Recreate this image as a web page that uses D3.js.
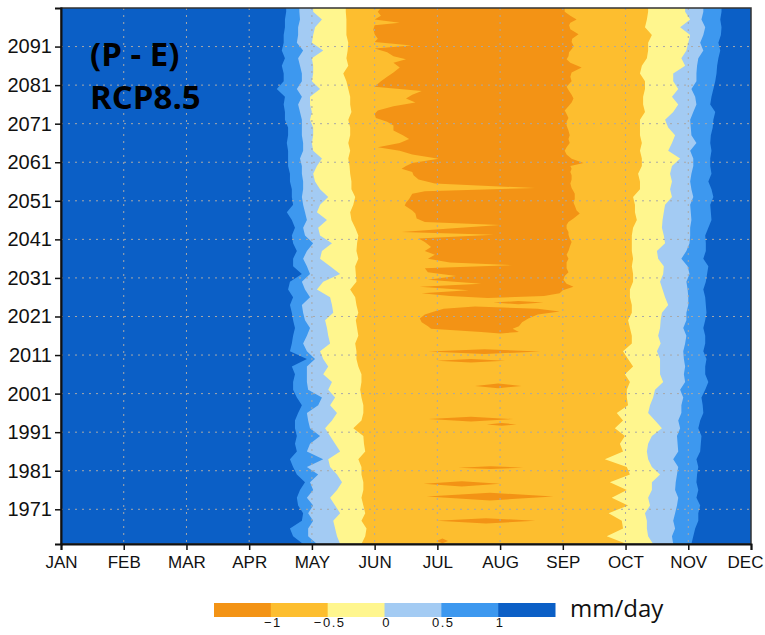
<!DOCTYPE html>
<html>
<head>
<meta charset="utf-8">
<script src="https://cdn.jsdelivr.net/npm/d3@7"></script>
<style>
  html, body { margin: 0; padding: 0; background: #fff; }
  svg { display: block; }
</style>
</head>
<body>
<svg id="chart" width="765" height="635"></svg>
<script>
// month labels on the x axis (JAN at the left edge, DEC at the right edge)
var months = ["JAN","FEB","MAR","APR","MAY","JUN","JUL","AUG","SEP","OCT","NOV","DEC"];
var yearTicks = [1971, 1981, 1991, 2001, 2011, 2021, 2031, 2041, 2051, 2061, 2071, 2081, 2091];

// colour classes of P - E (mm/day)
var levels = [-1, -0.5, 0, 0.5, 1];
var classColors = ["#f39315", "#fdbe2f", "#fff68e", "#a3cbf3", "#3d98ef", "#0b5fc6"];

// years at which the class boundaries were read
var years = [
  1962,1964,1966,1968,1970,1972,1974,1976,1978,1980,
  1982,1984,1986,1988,1990,1992,1994,1996,1998,2000,
  2002,2004,2006,2008,2010,2012,2014,2016,2018,2020,
  2022,2024,2026,2028,2030,2032,2034,2036,2038,2040,
  2042,2044,2046,2048,2050,2052,2054,2056,2058,2060,
  2062,2064,2066,2068,2070,2072,2074,2076,2078,2080,
  2082,2084,2086,2088,2090,2092,2094,2096,2098,2100];

// spring: month position where P-E drops below 1, 0.5, 0, -0.5
var spring1 = [
  3.86,3.70,3.65,3.84,3.86,3.78,3.76,3.81,3.89,3.76,
  3.70,3.65,3.76,3.73,3.76,3.73,3.73,3.78,3.84,3.76,
  3.70,3.70,3.73,3.68,3.92,3.65,3.68,3.70,3.73,3.70,
  3.68,3.65,3.70,3.62,3.65,3.84,3.70,3.70,3.76,3.70,
  3.68,3.73,3.68,3.60,3.70,3.68,3.68,3.65,3.65,3.62,
  3.62,3.62,3.60,3.62,3.62,3.57,3.57,3.55,3.57,3.44,
  3.55,3.55,3.52,3.57,3.52,3.55,3.55,3.57,3.57,3.59];
var spring05 = [
  4.08,3.94,3.94,4.02,3.94,4.02,3.92,4.02,3.97,4.10,
  3.92,4.18,3.92,3.97,4.13,3.97,3.94,3.92,4.10,4.16,
  3.94,3.92,3.92,3.92,4.05,3.92,3.86,3.92,3.97,3.89,
  3.86,3.84,3.97,3.89,3.84,3.97,3.92,3.86,3.92,4.02,
  3.89,3.86,3.92,3.89,3.86,3.84,3.86,3.86,3.84,3.84,
  3.81,3.86,3.86,3.84,3.84,3.84,3.81,3.78,3.84,3.76,
  3.84,3.84,3.81,3.78,3.86,3.76,3.78,3.78,3.81,3.80];
var spring0 = [
  4.45,4.40,4.37,4.34,4.45,4.37,4.29,4.40,4.48,4.40,
  4.29,4.26,4.45,4.37,4.29,4.21,4.32,4.40,4.29,4.37,
  4.26,4.32,4.18,4.26,4.18,4.13,4.29,4.26,4.24,4.21,
  4.34,4.32,4.29,4.08,4.18,4.45,4.29,4.13,4.16,4.32,
  4.13,4.10,4.24,4.08,4.13,4.26,4.13,4.05,4.02,4.08,
  4.16,4.02,4.00,4.02,4.02,3.97,4.00,3.97,3.97,4.13,
  4.00,4.02,4.02,4.00,4.18,4.00,4.02,4.05,4.16,4.02];
var springM05 = [
  4.79,4.85,4.87,4.79,4.85,4.82,4.79,4.82,4.82,4.79,
  4.79,4.74,4.85,4.83,4.82,4.66,4.79,4.82,4.82,4.79,
  4.77,4.79,4.79,4.74,4.71,4.71,4.69,4.74,4.72,4.70,
  4.74,4.71,4.69,4.61,4.71,4.70,4.69,4.74,4.71,4.72,
  4.74,4.69,4.63,4.61,4.66,4.69,4.63,4.63,4.61,4.60,
  4.58,4.61,4.58,4.61,4.61,4.58,4.63,4.61,4.61,4.58,
  4.55,4.50,4.58,4.55,4.57,4.58,4.55,4.55,4.55,4.54];

// autumn: month position where P-E rises above -0.5, 0, 0.5, 1
var autumnM05 = [
  9.02,8.70,8.96,8.94,8.73,9.04,8.78,9.02,8.75,9.07,
  9.02,8.67,8.96,8.91,8.99,8.83,8.96,8.86,9.04,9.02,
  9.02,9.07,8.99,9.12,9.04,8.96,9.10,9.10,9.07,9.04,
  9.10,9.10,9.07,9.07,9.12,9.12,9.10,9.12,9.10,9.10,
  9.10,9.12,9.18,9.15,9.15,9.12,9.23,9.23,9.20,9.26,
  9.26,9.23,9.26,9.23,9.23,9.23,9.31,9.28,9.28,9.31,
  9.31,9.23,9.26,9.34,9.36,9.36,9.42,9.31,9.34,9.36];
var autumn0 = [
  9.44,9.36,9.34,9.34,9.31,9.39,9.36,9.42,9.42,9.55,
  9.42,9.36,9.34,9.36,9.42,9.58,9.47,9.36,9.39,9.44,
  9.47,9.60,9.55,9.55,9.55,9.50,9.56,9.52,9.55,9.56,
  9.58,9.68,9.63,9.59,9.55,9.60,9.61,9.52,9.50,9.63,
  9.61,9.58,9.59,9.61,9.63,9.74,9.71,9.74,9.71,9.74,
  9.87,9.68,9.74,9.79,9.68,9.63,9.76,9.84,9.74,9.84,
  9.76,9.76,9.95,9.89,9.97,10.00,10.03,9.87,10.03,9.95];
var autumn05 = [
  9.76,9.74,9.79,9.76,9.79,9.82,9.84,9.79,9.80,9.82,
  9.84,9.76,9.84,9.83,9.82,9.87,9.84,9.89,9.89,9.92,
  9.87,9.95,9.93,9.95,9.93,9.92,9.95,9.97,9.92,9.97,
  9.97,10.00,10.00,9.99,9.97,10.02,9.99,9.89,9.97,10.02,
  10.03,10.03,10.05,10.04,10.03,10.08,10.05,10.03,10.05,10.08,
  10.08,10.03,10.13,10.05,10.04,10.03,10.08,10.13,10.11,10.05,
  10.13,10.13,10.14,10.16,10.24,10.19,10.24,10.27,10.21,10.24];
var autumn1 = [
  10.05,10.08,10.11,10.16,10.16,10.19,10.13,10.16,10.13,10.14,
  10.16,10.13,10.19,10.20,10.21,10.16,10.19,10.24,10.23,10.21,
  10.27,10.32,10.27,10.27,10.29,10.24,10.27,10.27,10.24,10.27,
  10.29,10.28,10.27,10.24,10.28,10.30,10.32,10.24,10.28,10.28,
  10.27,10.32,10.37,10.36,10.35,10.40,10.37,10.32,10.37,10.35,
  10.35,10.37,10.35,10.36,10.39,10.40,10.43,10.35,10.37,10.40,
  10.43,10.45,10.46,10.48,10.51,10.48,10.52,10.53,10.51,10.53];

// P-E < -1 : main body from 2026 up  [year, from month, to month]
var darkBody = [
  [2025.8,6.80,6.80],[2026.3,6.20,7.70],[2027,5.75,7.95],[2027.8,6.50,8.00],
  [2028.7,5.72,8.17],[2029.5,6.70,8.06],[2030.5,5.85,8.01],[2031.5,6.30,8.03],
  [2032.5,5.85,8.09],[2033.5,5.80,8.06],[2034.3,7.20,8.06],[2035,6.20,8.06],
  [2036,5.85,8.09],[2037,5.96,8.06],[2038,5.80,8.09],[2039,5.90,8.11],
  [2040.3,5.80,8.14],[2041.2,5.70,8.11],[2042.2,6.90,8.09],[2042.9,5.43,8.09],
  [2043.8,6.20,8.06],[2044.7,7.00,8.06],[2045.5,5.80,8.09],[2046.4,5.67,8.17],
  [2047.7,5.65,8.27],[2048.5,5.60,8.22],[2049.8,5.48,8.19],[2050.5,5.50,8.17],
  [2051.5,5.55,8.19],[2052.8,5.60,8.19],[2053.5,5.80,8.17],[2054.3,7.56,8.14],
  [2055.5,5.96,8.12],[2056.5,5.70,8.14],[2057.6,5.62,8.14],[2058.5,5.60,8.12],
  [2059.3,5.43,8.14],[2060,5.50,8.12],[2060.8,5.60,8.33],[2061.9,6.02,8.14],
  [2063,5.60,8.06],[2064,5.40,8.03],[2064.9,5.05,8.06],[2066,5.40,8.11],
  [2067,5.55,8.09],[2068,5.45,8.11],[2069.2,5.30,8.09],[2070.5,5.30,8.06],
  [2071.5,5.20,8.06],[2072.5,5.02,8.09],[2073.5,5.00,8.06],[2074.4,5.05,8.03],
  [2075.5,5.30,8.09],[2076.5,5.65,8.14],[2077.5,5.50,8.17],[2078.5,5.60,8.14],
  [2079.5,5.75,8.10],[2080.6,5.00,8.06],[2082,5.10,8.14],[2083.2,5.20,8.12],
  [2084.3,5.30,8.14],[2085.6,5.40,8.30],[2086.8,5.30,8.12],[2087.7,5.50,8.06],
  [2088.5,5.30,8.09],[2089.5,5.20,8.10],[2090.5,5.00,8.15],[2091.3,5.59,8.17],
  [2092.2,5.00,8.14],[2093,5.05,8.15],[2094.2,5.00,8.25],[2095.5,4.98,8.12],
  [2096.5,5.00,8.10],[2097.2,5.40,8.12],[2098,5.00,8.22],[2099,5.10,8.12],
  [2100,5.05,8.03],[2101,5.10,8.03]];

// P-E < -1 : blob around 2020
var darkBlob = [
  [2016.6,7.00,7.00],[2017.0,6.70,7.30],[2017.8,5.90,7.20],[2018.5,5.85,7.30],
  [2019.5,5.75,7.35],[2020.5,5.72,7.45],[2021.5,5.80,7.60],[2022.3,5.95,7.95],
  [2023.0,6.10,7.60],[2023.6,6.60,6.60]];

// P-E < -1 : thin streaks  [centre year, half height in years, from month, to month]
var darkStreaks = [
  [2024.6,0.4,6.89,7.69],[2011.9,0.6,5.86,7.64],[2009.5,0.45,5.99,7.08],
  [2003.0,0.6,6.60,7.34],[1994.4,0.6,5.86,7.21],[1993.0,0.35,6.79,7.26],
  [1981.8,0.35,6.33,7.37],[1977.6,0.7,5.78,7.00],[1974.3,1.0,5.83,7.85],
  [1968.0,0.7,5.99,7.56],[1962.8,0.6,5.99,6.17]];

var svg = d3.select("#chart");
var pL = 61, pR = 751, pT = 8, pB = 544;

var x = d3.scaleLinear().domain([0, 11]).range([pL, pR]);
var y = d3.scaleLinear().domain([1962, 2101]).range([pB, pT]);

svg.append("clipPath").attr("id", "plotClip")
  .append("rect").attr("x", pL).attr("y", pT)
  .attr("width", pR - pL).attr("height", pB - pT);

var plot = svg.append("g").attr("clip-path", "url(#plotClip)");

plot.append("rect")
  .attr("x", pL).attr("y", pT)
  .attr("width", pR - pL).attr("height", pB - pT)
  .attr("fill", classColors[5]);

var band = d3.area()
  .y(function(d){ return y(d[0]); })
  .x0(function(d){ return x(d[1]); })
  .x1(function(d){ return x(d[2]); })
  .curve(d3.curveLinear);

// nested bands: each one paints over the previous, wetter one
var layers = [
  [spring1, autumn1, classColors[4]],
  [spring05, autumn05, classColors[3]],
  [spring0, autumn0, classColors[2]],
  [springM05, autumnM05, classColors[1]]
];
layers.forEach(function(l){
  var rows = years.map(function(yr, i){ return [yr, l[0][i], l[1][i]]; });
  // stretch the first/last rows to the plot edges
  var first = rows[0], last = rows[rows.length - 1];
  rows.unshift([y.domain()[0] - 1, first[1], first[2]]);
  rows.push([y.domain()[1] + 1, last[1], last[2]]);
  plot.append("path").attr("d", band(rows)).attr("fill", l[2]);
});

plot.append("path").attr("d", band(darkBody)).attr("fill", classColors[0]);
plot.append("path").attr("d", band(darkBlob)).attr("fill", classColors[0]);
darkStreaks.forEach(function(s){
  var mid = (s[2] + s[3]) / 2;
  var rows = [[s[0] - s[1], mid, mid], [s[0], s[2], s[3]], [s[0] + s[1], mid, mid]];
  plot.append("path").attr("d", band(rows)).attr("fill", classColors[0]);
});

// dotted grid
var grid = svg.append("g").attr("stroke", "#a8a8a8").attr("stroke-width", 1)
  .attr("stroke-dasharray", "2,5");
yearTicks.forEach(function(t){
  grid.append("line").attr("x1", pL).attr("x2", pR)
    .attr("y1", y(t)).attr("y2", y(t));
});
d3.range(1, 11).forEach(function(m){
  grid.append("line").attr("x1", x(m)).attr("x2", x(m))
    .attr("y1", pT).attr("y2", pB);
});

// frame
svg.append("rect")
  .attr("x", pL).attr("y", pT)
  .attr("width", pR - pL).attr("height", pB - pT)
  .attr("fill", "none").attr("stroke", "#333").attr("stroke-width", 1.5);

// axes
var yAxis = svg.append("g")
  .attr("transform", "translate(" + pL + ",0)")
  .call(d3.axisLeft(y).tickValues(yearTicks).tickFormat(d3.format("d")).tickSize(6).tickPadding(3));
var xAxis = svg.append("g")
  .attr("transform", "translate(0," + pB + ")")
  .call(d3.axisBottom(x).tickValues(d3.range(12)).tickFormat(function(i){ return months[i]; }).tickSize(6).tickPadding(6));

[yAxis, xAxis].forEach(function(a){
  a.select(".domain").attr("stroke", "#111").attr("stroke-width", 2);
  a.selectAll(".tick line").attr("stroke", "#111").attr("stroke-width", 1.5);
  a.selectAll("text").attr("fill", "#111").attr("font-family", "'Liberation Sans', Arial, sans-serif");
});
yAxis.selectAll("text").attr("font-size", 20);
xAxis.selectAll("text").attr("font-size", 17);
// last month label is pulled in so it stays inside the page
xAxis.selectAll(".tick text").filter(function(d){ return d === 11; }).attr("dx", -6);

// labels inside the plot
svg.append("text").attr("x", 90).attr("y", 66).text("(P - E)")
  .attr("font-family", "'Open Sans', sans-serif").attr("font-weight", "bold")
  .attr("font-size", 33).attr("fill", "#000");
svg.append("text").attr("x", 90).attr("y", 109).text("RCP8.5")
  .attr("font-family", "'Open Sans', sans-serif").attr("font-weight", "bold")
  .attr("font-size", 33).attr("fill", "#000");

// colour bar
var legX = d3.scaleLinear().domain([0, 6]).range([214, 555]);
var legend = svg.append("g");
classColors.forEach(function(c, i){
  legend.append("rect")
    .attr("x", legX(i)).attr("y", 603)
    .attr("width", legX(i + 1) - legX(i) + 0.5).attr("height", 14)
    .attr("fill", c);
});
levels.forEach(function(v, i){
  legend.append("text")
    .attr("x", legX(i + 1) + 2).attr("y", 627)
    .attr("text-anchor", "middle")
    .attr("font-family", "'Liberation Sans', Arial, sans-serif")
    .attr("font-size", 13).attr("letter-spacing", 1.5).attr("fill", "#111")
    .text(d3.format("")(v).replace("-", "\u2212"));
});
legend.append("text").attr("x", 570).attr("y", 617).text("mm/day")
  .attr("font-family", "'Open Sans', sans-serif").attr("font-size", 24).attr("fill", "#111");
</script>
</body>
</html>
